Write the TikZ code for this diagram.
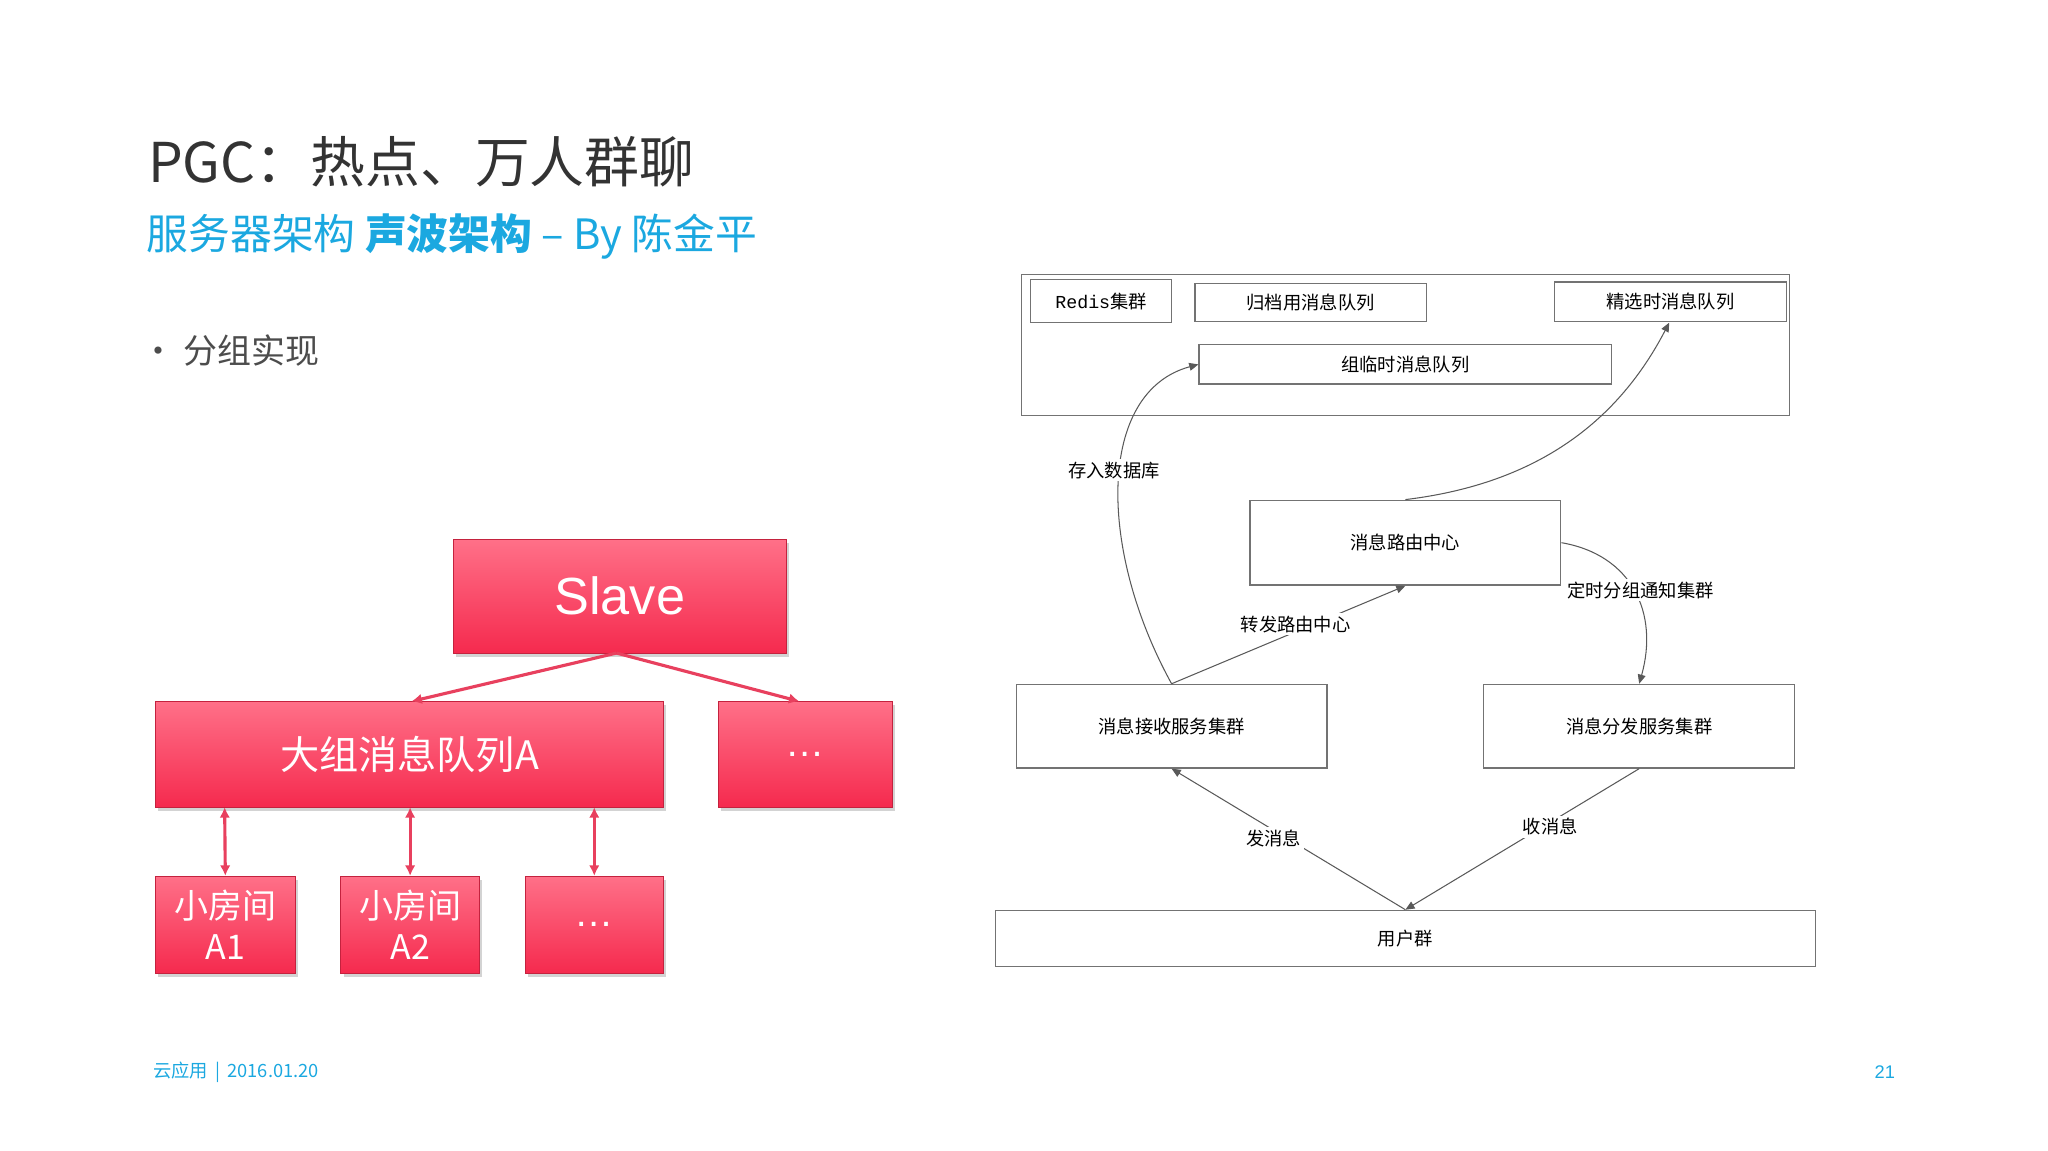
\documentclass[tikz,border=0pt]{standalone}
\usepackage{fontspec}
\setmainfont{Liberation Sans}
\newfontfamily\cjk{Noto Sans CJK SC}
\usetikzlibrary{arrows.meta,shadows}
\definecolor{cyanT}{HTML}{1BA8E0}
\definecolor{redT}{HTML}{FF7088}
\definecolor{redB}{HTML}{F52A4E}
\definecolor{redL}{HTML}{E8405E}
\tikzset{
 rbox/.style={draw=redB!80!black,line width=0.4pt,top color=redT,bottom color=redB,text=white,align=center,drop shadow={shadow xshift=1pt,shadow yshift=-1.5pt,opacity=0.35}},
 wbox/.style={draw=black!55,line width=0.5pt,fill=white,font=\cjk\fontsize{7}{8}\selectfont},
 rarr/.style={draw=redL,line width=1.2pt,-{Latex[length=4pt,width=4pt]}},
 garr/.style={draw=black!65,line width=0.4pt,-{Triangle[length=3.5pt,width=3pt]}},
 lbl/.style={font=\cjk\fontsize{7}{8}\selectfont,fill=white,inner sep=1pt}
}
\begin{document}
\begin{tikzpicture}[x=0.5pt,y=-0.5pt]
\useasboundingbox (0,0) rectangle (1568,881);
\node[anchor=west,inner sep=0pt,text=black!80,font=\cjk\fontsize{21}{24}\selectfont] (title) at (113,124) {PGC：热点、万人群聊};
\node[anchor=west,inner sep=0pt,text=cyanT,font=\cjk\fontsize{16}{19}\selectfont] (sub) at (112,181) {服务器架构 \textbf{声波架构} – By 陈金平};
\node[anchor=west,inner sep=0pt,text=black!70,font=\cjk\fontsize{13}{16}\selectfont] (bul) at (108,268) {• 分组实现};
% left red diagram
\node[rbox,minimum width=127.5pt,minimum height=43.5pt,font=\fontsize{20}{22}\selectfont] (slave) at (474.5,456.5) {Slave};
\node[rbox,minimum width=194.5pt,minimum height=40.5pt,font=\cjk\fontsize{15}{18}\selectfont] (big) at (313.5,577.5) {大组消息队列A};
\node[rbox,minimum width=66.5pt,minimum height=40.5pt,font=\fontsize{15}{18}\selectfont] (dots1) at (616.5,577.5) {…};
\node[rbox,minimum width=53.5pt,minimum height=37pt,font=\cjk\fontsize{13}{16}\selectfont] (a1) at (172.5,708) {小房间\\A1};
\node[rbox,minimum width=53pt,minimum height=37pt,font=\cjk\fontsize{13}{16}\selectfont] (a2) at (314,708) {小房间\\A2};
\node[rbox,minimum width=53pt,minimum height=37pt,font=\fontsize{15}{18}\selectfont] (dots2) at (455,708) {…};
\coordinate (sb) at (472,500);
\draw[rarr] (sb) -- (315,537);
\draw[rarr] (sb) -- (612,537);
\draw[rarr,{Latex[length=4pt,width=4pt]}-{Latex[length=4pt,width=4pt]}] (172,618) -- (a1.north);
\draw[rarr,{Latex[length=4pt,width=4pt]}-{Latex[length=4pt,width=4pt]}] (314,618) -- (a2.north);
\draw[rarr,{Latex[length=4pt,width=4pt]}-{Latex[length=4pt,width=4pt]}] (455,618) -- (dots2.north);
% right diagram
\node[draw=black!55,line width=0.5pt,minimum width=294pt,minimum height=54pt] (outer) at (1076,264) {};
\node[wbox,minimum width=54pt,minimum height=16.5pt] (redis) at (843,230.5) {\fontspec{Liberation Mono}Redis\cjk 集群};
\node[wbox,minimum width=88.5pt,minimum height=14.5pt] (gd) at (1003.5,231.5) {归档用消息队列};
\node[wbox,minimum width=89pt,minimum height=15pt] (jx) at (1279,231) {精选时消息队列};
\node[wbox,minimum width=158pt,minimum height=15pt] (zl) at (1076,279) {组临时消息队列};
\node[wbox,minimum width=119pt,minimum height=32.5pt] (ly) at (1076,415.5) {消息路由中心};
\node[wbox,minimum width=119pt,minimum height=32pt] (js) at (897,556) {消息接收服务集群};
\node[wbox,minimum width=119pt,minimum height=32pt] (ff) at (1255,556) {消息分发服务集群};
\node[wbox,minimum width=314pt,minimum height=21.5pt] (yh) at (1076,718.5) {用户群};
\draw[garr] (js.north) .. controls (840,420) and (840,300) .. (zl.west);
\node[lbl] (l1) at (853,360) {存入数据库};
\draw[garr] (ly.north) .. controls (1180,370) and (1240,320) .. (1278,247);
\draw[garr] (js.north) -- (ly.south);
\node[lbl] (l2) at (992,478) {转发路由中心};
\draw[garr] (ly.east) .. controls (1250,425) and (1270,470) .. (ff.north);
\node[lbl] (l3) at (1256,452) {定时分组通知集群};
\draw[garr] (yh.north) -- (js.south);
\node[lbl] (l4) at (975,642) {发消息};
\draw[garr] (ff.south) -- (yh.north);
\node[lbl] (l5) at (1187,633) {收消息};
% footer
\node[anchor=west,inner sep=0pt,text=cyanT,font=\cjk\fontsize{7}{8}\selectfont] (foot) at (117,821) {云应用 \,|\, 2016.01.20};
\node[text=cyanT,font=\fontsize{7}{8}\selectfont] (pg) at (1443,821) {21};
\end{tikzpicture}
\end{document}
